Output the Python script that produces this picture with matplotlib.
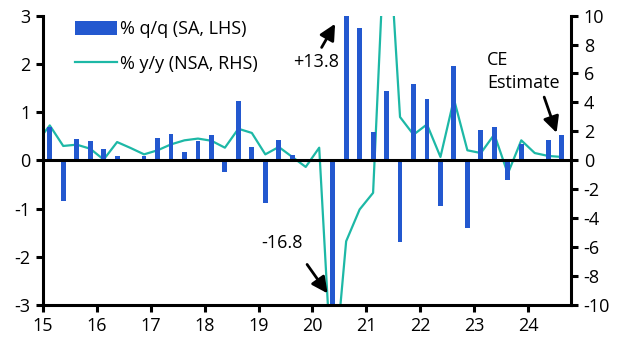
import matplotlib.pyplot as plt
import numpy as np

plt.rcParams['font.family'] = ['Open Sans', 'DejaVu Sans']
plt.rcParams['font.size'] = 13
plt.rcParams['axes.unicode_minus'] = False

# quarterly data, 2015Q1 - 2024Q3 (bars), y/y line starts 2014Q4
years = [15, 16, 17, 18, 19, 20, 21, 22, 23, 24]
qq = [0.70, -0.84, 0.44, 0.41,
      0.23, 0.09, 0.0, 0.09,
      0.46, 0.54, 0.17, 0.39,
      0.52, -0.24, 1.22, 0.28,
      -0.88, 0.43, 0.10, 0.0,
      0.0, -16.8, 13.8, 2.75,
      0.58, 1.43, -1.70, 1.59,
      1.28, -0.95, 1.95, -1.40,
      0.62, 0.68, -0.40, 0.33,
      0.0, 0.43, 0.52]
yy = [1.2,
      2.41, 0.99, 1.08, 0.80,
      0.05, 1.26, 0.85, 0.41,
      0.69, 1.10, 1.38, 1.50,
      1.35, 0.87, 2.18, 1.89,
      0.41, 0.92, 0.23, -0.46,
      0.87, -16.0, -5.6, -3.4,
      -2.25, 18.2, 2.99, 1.77,
      2.48, 0.23, 4.23, 0.69,
      0.50, 1.79, -0.92, 1.38,
      0.50, 0.30, 0.23]

bar_col = '#2358CF'
line_col = '#1DB8A6'

x_bar = 15 + (np.arange(len(qq)) + 0.5) / 4
x_line = 15 + (np.arange(len(yy)) - 0.5) / 4

fig = plt.figure(figsize=(6.29, 3.55), dpi=100)
ax = fig.add_axes([0.0684, 0.141, 0.908 - 0.0684, 0.956 - 0.141])
ax2 = ax.twinx()

ax.bar(x_bar, qq, width=0.09, color=bar_col, label='% q/q (SA, LHS)', zorder=2)
ax2.plot(x_line, yy, color=line_col, lw=1.6, label='% y/y (NSA, RHS)', zorder=3)

ax.set_xlim(15, 24.8)
ax.set_ylim(-3, 3)
ax2.set_ylim(-10, 10)
ax.set_yticks([-3, -2, -1, 0, 1, 2, 3])
ax2.set_yticks(range(-10, 11, 2))
ax.set_xticks(years)
ax.set_xticklabels([str(y) for y in years])

ax.axhline(0, color='black', lw=2.2, zorder=4)

for a in (ax, ax2):
    a.spines['top'].set_visible(False)
    for s in ('left', 'right', 'bottom'):
        a.spines[s].set_linewidth(2.2)
ax.spines['right'].set_visible(False)
ax2.spines['left'].set_visible(False)
ax2.spines['bottom'].set_visible(False)
ax.tick_params(axis='both', width=2.2, length=5, pad=4)
ax2.tick_params(axis='y', width=2.2, length=5, pad=4)

# keep the line above the bars
ax.set_zorder(ax2.get_zorder() + 1)
ax.patch.set_visible(False)
ax2.set_zorder(0)

h1, l1 = ax.get_legend_handles_labels()
h2, l2 = ax2.get_legend_handles_labels()
ax.legend(h1 + h2, l1 + l2, loc='upper left', bbox_to_anchor=(0.03, 1.04),
          frameon=False, handlelength=2.3, handleheight=0.8, labelspacing=0.9,
          handletextpad=0.2)

arr = dict(arrowstyle='-|>', color='black', lw=2, mutation_scale=24,
           shrinkA=0, shrinkB=0)
ax.annotate('', xy=(20.42, 2.83), xytext=(20.17, 2.34), arrowprops=arr)
ax.text(20.07, 2.03, '+13.8', ha='center', va='center')
ax.annotate('', xy=(20.28, -2.76), xytext=(19.90, -2.16), arrowprops=arr)
ax.text(19.44, -1.71, '-16.8', ha='center', va='center')
ax.annotate('', xy=(24.53, 0.57), xytext=(24.30, 1.31), arrowprops=arr)
ax.text(23.24, 1.84, 'CE\nEstimate', ha='left', va='center', linespacing=1.3)

fig.savefig('out.png', dpi=100)
